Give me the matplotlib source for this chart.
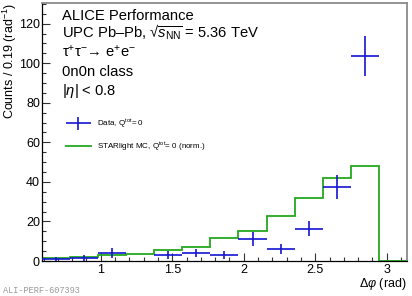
import numpy as np
import matplotlib
matplotlib.use("Agg")
import matplotlib.pyplot as plt
from matplotlib.ticker import MultipleLocator, FormatStrFormatter
from matplotlib.legend_handler import HandlerErrorbar
from matplotlib.container import ErrorbarContainer

plt.rcParams['font.family'] = ['Liberation Sans', 'DejaVu Sans']
plt.rcParams['mathtext.fontset'] = 'custom'
plt.rcParams['mathtext.rm'] = 'Liberation Sans'
plt.rcParams['mathtext.it'] = 'Liberation Sans:italic'
plt.rcParams['mathtext.bf'] = 'Liberation Sans:bold'

# bin edges in delta phi (rad), width pi/16
edges = [0.589, 0.785, 0.982, 1.178, 1.374, 1.571, 1.767,
         1.963, 2.160, 2.356, 2.553, 2.749, 2.945, 3.142]
# STARlight MC (normalised), one value per bin
mc_counts = [1.4, 1.9, 2.8, 3.4, 5.4, 7.2, 11.4, 15.4, 22.8, 31.8, 41.9, 47.9, 0.0]
# data, nan = no point drawn
data_counts = [1.1, 1.7, 4.0, np.nan, 3.2, 4.1, 3.0, 11.2, 6.0, 16.3, 37.4, 103.5, np.nan]
data_err = [1.0, 1.5, 2.4, np.nan, 2.0, 2.1, 1.9, 3.5, 2.7, 3.8, 6.1, 10.1, np.nan]

edges = np.array(edges)
centers = 0.5 * (edges[1:] + edges[:-1])
halfw = 0.5 * (edges[1:] - edges[:-1])
data_counts = np.array(data_counts)
data_err = np.array(data_err)
ok = ~np.isnan(data_counts)

W, H = 412, 296
fig = plt.figure(figsize=(W / 100, H / 100), dpi=100)
ax = fig.add_axes([42 / W, 1 - 261 / H, 365 / W, 257.7 / H])

blue = '#1414d2'
green = '#22a81e'

ax.stairs(mc_counts, edges, baseline=None, color=green, lw=1.3,
          label=r'STARlight MC, Q$^{\mathrm{tot}}$= 0 (norm.)', zorder=2)
ax.errorbar(centers[ok], data_counts[ok], yerr=data_err[ok], xerr=halfw[ok],
            fmt='none', ecolor=blue, elinewidth=1.2, capsize=0,
            label=r'Data, Q$^{\mathrm{tot}}$= 0', zorder=3)

ax.set_xlim(edges[0], edges[-1])
ax.set_ylim(0, 130.3)

ax.xaxis.set_major_locator(MultipleLocator(0.5))
ax.xaxis.set_minor_locator(MultipleLocator(0.1))
ax.xaxis.set_major_formatter(FormatStrFormatter('%g'))
ax.yaxis.set_major_locator(MultipleLocator(20))
ax.yaxis.set_minor_locator(MultipleLocator(5))
ax.tick_params(which='both', direction='in', top=False, right=False,
               color='#333333', width=0.8, labelsize=9)
ax.tick_params(which='major', length=5.8)
ax.tick_params(which='minor', length=2.9)
ax.tick_params(axis='x', pad=2)
ax.tick_params(axis='y', pad=1.5)

for s in ['bottom', 'left']:
    ax.spines[s].set_color('black')
    ax.spines[s].set_linewidth(0.9)
for s in ['top', 'right']:
    ax.spines[s].set_color('#8a8a8a')
    ax.spines[s].set_linewidth(1.3)

fig.text(10 / W, 1 - 3 / H, r'Counts / 0.19 (rad$^{-1}$)', rotation=90,
         ha='center', va='top', fontsize=9)
fig.text(407 / W, 1 - 286.5 / H, r'$\Delta\varphi$ (rad)', ha='right',
         va='baseline', fontsize=9)

tx = 62 / W
fs = 10.6
fig.text(tx, 1 - 20.2 / H, 'ALICE Performance', fontsize=fs, va='baseline')
fig.text(tx, 1 - 37.3 / H, r'UPC Pb–Pb, √$\overline{s_{\mathrm{NN}}}$ = 5.36 TeV',
         fontsize=fs, va='baseline')
fig.text(tx, 1 - 57 / H, r'τ$^{+}$τ$^{-}$→ e$^{+}$e$^{-}$', fontsize=fs,
         va='baseline')
fig.text(tx, 1 - 76 / H, '0n0n class', fontsize=fs, va='baseline')
fig.text(tx, 1 - 94.5 / H, r'|$\eta$| < 0.8', fontsize=fs, va='baseline')

h, l = ax.get_legend_handles_labels()
leg = ax.legend(h[::-1], l[::-1], loc='upper left',
                bbox_to_anchor=(66 / W, 1 - 118 / H),
                bbox_transform=fig.transFigure, frameon=False, fontsize=5.8,
                borderpad=0, borderaxespad=0, handlelength=3.1,
                handletextpad=0.75, labelspacing=1.25,
                handler_map={ErrorbarContainer: HandlerErrorbar(xerr_size=1.55, yerr_size=0.75)})

fig.text(2.7 / W, 1 - 293 / H, 'ALI-PERF-607393', fontsize=6.2,
         family='Liberation Mono', color='#9a9a9a', va='baseline')

fig.savefig('out.png', dpi=100)
